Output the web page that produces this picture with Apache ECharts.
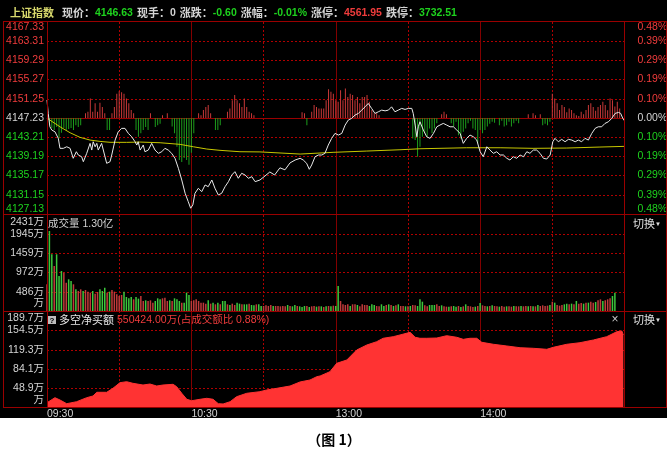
<!DOCTYPE html>
<html><head><meta charset="utf-8">
<script src="https://cdn.jsdelivr.net/npm/echarts@6/dist/echarts.min.js"></script>
<style>
html,body{margin:0;padding:0;background:#fff;}
#bg{position:absolute;left:0;top:0;width:667px;height:418px;background:#000;}
#chart{position:absolute;left:0;top:0;width:671px;height:462px;}
</style></head><body>
<div id="bg"></div><div id="chart"></div>
<script>
// ---------- DATA ----------
const priceBase = 4147.23, priceStep = 4.02;
const priceTickLabels = ['4127.13','4131.15','4135.17','4139.19','4143.21','4147.23','4151.25','4155.27','4159.29','4163.31','4167.33'];
const pctTickLabels = ['0.48%','0.39%','0.29%','0.19%','0.10%','0.00%','0.10%','0.19%','0.29%','0.39%','0.48%'];
const volMax = 2431, volStep = 486.2;
const volTickLabels = ['万','486万','972万','1459万','1945万','2431万'];
const netMin = 13.7, netMax = 189.7, netStep = 35.2;
const netTickLabels = ['万','48.9万','84.1万','119.3万','154.5万','189.7万'];
const timeTicks = [0, 60, 120, 180];
const timeTickLabels = ['09:30', '10:30', '13:00', '14:00'];
const headerParts = [['上证指数','name'],['现价：','label'],['4146.63','down'],['现手：','label'],['0','plain'],['涨跌：','label'],['-0.60','down'],['涨幅：','label'],['-0.01%','down'],['涨停：','label'],['4561.95','up'],['跌停：','label'],['3732.51','down']];
const volumeTitle = '成交量 1.30亿';
const netTitle = '多空净买额';
const netValueText = '550424.00万(占成交额比 0.88%)';
const switchText = '切换';
const caption = '（图 1）';

// minute index (0 = 09:30, 120 = 11:30/13:00, 240 = 15:00), price
const priceLine = [[0,4151.0],[0.5,4148.19],[1.2,4145.39],[2.0,4144.70],[2.6,4145.06],[3.3,4144.35],[4.0,4144.70],[4.7,4142.97],[5.4,4140.88],[6.1,4140.52],[6.8,4140.88],[8.2,4141.21],[9.6,4140.88],[10.9,4138.79],[11.6,4138.43],[12.2,4140.17],[13.0,4139.48],[14.4,4139.12],[15.1,4138.08],[16.5,4139.83],[17.9,4141.92],[18.6,4140.52],[19.2,4142.26],[20.0,4141.21],[20.7,4141.92],[21.3,4140.52],[22.0,4140.88],[22.7,4141.92],[23.4,4141.57],[24.8,4137.74],[25.5,4137.39],[26.2,4138.08],[26.9,4139.48],[28.3,4142.61],[29.6,4144.35],[31.0,4145.06],[32.4,4145.06],[33.8,4144.01],[35.2,4143.30],[36.6,4142.26],[37.3,4141.57],[37.9,4142.26],[38.7,4140.52],[39.4,4140.17],[40.0,4141.57],[40.7,4140.17],[42.1,4140.52],[43.5,4141.92],[44.9,4140.52],[46.3,4139.83],[47.7,4140.17],[49.0,4140.88],[50.4,4140.52],[51.8,4139.83],[53.2,4138.79],[54.6,4136.70],[56.0,4134.25],[57.4,4131.47],[58.7,4129.72],[59.7,4128.34],[60.6,4129.03],[61.5,4131.47],[62.9,4132.52],[64.3,4131.81],[65.7,4133.21],[67.0,4132.85],[68.5,4134.25],[69.8,4132.52],[71.2,4131.12],[72.6,4131.47],[74.0,4132.85],[75.4,4133.90],[76.8,4135.30],[78.1,4135.99],[79.5,4134.61],[80.9,4135.65],[82.3,4135.30],[83.7,4134.61],[85.1,4134.94],[86.5,4133.90],[88.5,4134.25],[90.6,4135.09],[92.6,4135.93],[94.6,4135.30],[96.8,4136.80],[98.9,4136.38],[101.0,4137.83],[103.1,4138.43],[105.2,4138.79],[106.5,4138.43],[107.9,4137.74],[109.0,4136.49],[110.0,4137.39],[111.4,4139.12],[112.8,4139.48],[114.2,4139.48],[115.5,4139.83],[116.9,4141.57],[118.3,4142.97],[119.7,4144.01],[121.1,4143.66],[122.5,4144.01],[123.9,4145.75],[125.2,4146.79],[126.6,4147.15],[128.0,4147.84],[129.4,4148.19],[130.8,4148.88],[132.2,4149.57],[133.5,4150.28],[134.9,4149.24],[136.3,4148.19],[137.7,4148.53],[139.1,4148.88],[140.5,4148.73],[141.9,4148.88],[143.2,4149.57],[144.6,4148.53],[146.0,4148.88],[147.4,4149.24],[148.8,4149.03],[150.2,4149.24],[151.6,4149.24],[152.2,4148.19],[153.0,4145.75],[153.7,4143.30],[154.3,4145.39],[155.0,4146.44],[156.4,4144.70],[157.8,4143.30],[159.2,4142.97],[160.6,4144.01],[162.0,4145.39],[163.3,4145.75],[164.7,4146.10],[166.1,4145.75],[167.5,4145.39],[168.9,4145.39],[170.3,4144.70],[171.7,4144.01],[173.0,4141.92],[174.4,4142.97],[175.8,4143.66],[177.2,4143.30],[178.6,4142.61],[180.0,4140.17],[181.3,4139.12],[182.8,4141.21],[184.1,4140.52],[185.5,4139.83],[186.9,4140.17],[188.3,4139.48],[189.7,4139.48],[191.1,4138.79],[192.4,4138.43],[193.8,4139.12],[195.2,4138.79],[196.6,4139.48],[198.0,4139.12],[199.4,4140.17],[200.7,4139.83],[202.1,4140.52],[203.5,4140.52],[204.9,4139.83],[206.3,4138.79],[207.7,4138.64],[209.1,4139.48],[210.2,4142.26],[211.1,4142.97],[212.5,4142.26],[213.9,4142.76],[215.3,4142.26],[216.7,4142.76],[218.1,4142.61],[219.5,4142.26],[220.8,4142.61],[222.2,4142.26],[223.6,4142.97],[225.0,4142.61],[226.4,4144.01],[227.8,4145.06],[229.1,4145.39],[230.5,4145.39],[231.9,4146.10],[233.3,4146.44],[234.7,4147.15],[236.1,4148.19],[237.5,4148.40],[238.4,4148.19],[239.3,4147.15],[240,4146.63]];

const avgLine = [[0,4147.2],[1.2,4146.79],[5.4,4145.39],[9.6,4144.14],[13.7,4143.18],[17.9,4142.61],[22,4142.33],[26.2,4142.14],[33.1,4142.13],[38.7,4142.19],[47,4142.05],[55.3,4141.71],[60.8,4141.21],[66.4,4140.73],[71.9,4140.46],[80.2,4140.17],[88.5,4140.13],[105.2,4139.68],[118.9,4140.04],[132.9,4140.31],[146.7,4140.58],[155,4140.79],[174.4,4141.00],[188.3,4141.00],[202,4140.88],[216,4140.94],[229.8,4141.15],[240,4141.29]];

// red/green strength bars in the price panel: [first minute, values in index points]
const sentimentGroups = [
 [1, [-1.5,-2.1,-2.5,-1.9,-4.3,-3.1,-2.1,-2.5,-2.3,-2.1,-2.5,-1.5,-1.9,-1.5]],
 [16, [1.0,1.3,4.1,1.3,3.1,1.3,3.2,2.3,1.0]],
 [25, [-2.5,-2.5]],
 [27, [1.0,2.3,5.1,5.6,5.4,5.1,4.1,3.1,1.7,1.0]],
 [37, [-2.5,-3.9,-3.2,-2.5,-1.9,-2.5]],
 [43, [1.0]],
 [45, [-1.9,-1.5,-1.2]],
 [48, [0.6,0,1.0]],
 [52, [-1.8,-3.2,-6.0,-8.8,-9.2,-8.4,-8.8,-9.8,-7.3,-3.2]],
 [63, [1.0,0.6,1.7,2.3,2.7,1.0]],
 [70, [-2.5,-2.5,-1.5]],
 [75, [1.3,2.0,3.7,4.8,3.7,3.1,2.3,4.1,2.3,1.3,1.0,0.6]],
 [106, [1.2,1.0,-1.5]],
 [110, [1.3,2.7,2.3,2.0,2.0,2.0,3.7,6.0,5.5,5.1,3.7,3.4,5.8,3.7,6.2,4.4,5.1,4.8,3.7,4.4,3.1,4.4,4.4,4.8,3.4,1.7,1.0,1.0,0.6]],
 [152, [-4.3,-4.6,-8.1,-6.0,-3.9,-3.2,-3.9,-2.2,-3.2,-2.2,-1.1]],
 [164, [0.8,1.3,0.8]],
 [168, [-1.1,-1.8,-0.8,-3.6,-4.3,-2.9,-2.2,-1.1,-0.6,-2.2,-2.5,-5.3,-2.5,-3.2,-2.5,-1.8,-1.2,-0.8,-1.0]],
 [188, [-1.5,-0.6,-1.8,-1.5,-0.8,-1.8,-1.1,-0.6,-1.1]],
 [200, [0.8,0,1.0,0.6,0,0.8]],
 [206, [-1.5,-1.2,-1.5,-0.8]],
 [210, [5.1,4.1,3.1,1.7,2.7,2.3,1.2,2.0,1.7,1.0,0.6,0.4,1.3,0.8,1.7,2.7,3.1,2.3,1.5,2.3,2.7,3.4,2.7,1.6,4.1,3.7,2.4,3.4,2.0]]
];

// volume (万), morning minutes 0..120, afternoon from minute 121
const volAM = [676,2026,1436,1140,1436,887,1013,970,717,803,760,676,549,507,549,507,532,490,465,507,439,482,549,507,591,465,490,532,490,422,380,405,490,355,321,355,296,355,313,380,253,270,253,270,211,253,321,296,321,338,253,270,253,321,296,253,211,211,465,405,253,270,296,253,211,211,186,270,186,211,169,211,169,253,253,169,152,186,152,211,186,169,169,169,186,152,144,169,169,127,127,144,127,152,127,127,127,118,127,118,152,127,118,152,127,118,101,127,127,101,118,127,110,118,118,101,118,127,118,135,127];
const volAMDir = "rggrgggrrggrgrrgrrrgrrgggrgrrrrrggggrggrrgrrrgggrrrgrgggrgggrrrrrrrgrgrgrggrgrrggrggrggrggrrrrgrrrrrgrggrgggrgrrgrgrgrgr";
const volPM = [633,253,169,152,169,127,169,169,152,118,169,152,152,127,169,152,127,118,169,127,152,169,152,127,144,169,127,127,118,118,127,152,144,127,296,236,144,118,152,152,152,169,127,144,118,110,110,118,127,110,127,101,118,169,127,118,101,110,127,203,144,127,118,127,144,127,118,110,127,110,118,118,110,127,118,118,127,118,127,118,127,118,118,152,127,144,127,135,152,236,211,152,135,152,169,186,169,186,169,253,186,203,186,211,211,236,211,228,270,296,253,270,296,321,380,465];
const volPMDir = "grrrrgrrgrrrrgggrrggrgrgrgrrgrgrrgggrrgggrrgrrgrggrgrgrrrgrgrrgrgrrgrrgrrgrrgrrgrgrgrrrrgrgrrrggrgrgrrgrgrrgrrgrrr";

// net buy (万), [minute, value]
const netBuy = [[0,23.3],[3.3,32.4],[5.4,28.2],[8.2,21.5],[12.3,25.1],[16.5,32.4],[19.1,35.5],[20.7,42.2],[24.8,42.2],[27.4,49.4],[30.3,59.6],[33.1,61.4],[35.7,58.5],[39.9,55.4],[42.8,57.2],[45.6,53.6],[48.2,55.4],[52.4,56.7],[53.9,52.3],[56,40.4],[58.1,29.5],[60.1,26.9],[63.6,29.5],[66.4,31.3],[69,29.5],[71.2,21.5],[73.2,21.0],[76.1,25.1],[78.8,34.2],[83,40.4],[88.5,43.3],[91.3,46.4],[95.5,49.4],[101,53.6],[105.2,61.0],[109.3,64.5],[112.1,70.5],[113.5,71.8],[117.6,79.6],[120.4,94.8],[124.6,100.8],[128.7,118.9],[132.9,128.0],[137,134.0],[139.7,140.2],[143.9,143.1],[146.7,146.2],[150.9,151.0],[153,142.0],[155,140.2],[157.8,140.2],[162,140.7],[166.1,144.9],[170.3,142.0],[173,138.3],[175.8,140.2],[178.6,140.2],[180.7,132.9],[185.5,129.3],[191.1,126.2],[196.6,123.1],[202.1,122.0],[207.7,120.2],[210.4,123.8],[216,129.3],[221.5,132.2],[227.1,137.1],[232.6,143.1],[236.8,152.1],[238.9,153.4],[239.5,146.1]];

// ---------- STYLE ----------
function fontAvailable(name) {
  const ctx = document.createElement('canvas').getContext('2d');
  const s = '0123456789.%-';
  ctx.font = '40px monospace'; const a = ctx.measureText(s).width;
  ctx.font = "40px '" + name + "', monospace"; const b = ctx.measureText(s).width;
  ctx.font = '40px serif'; const c = ctx.measureText(s).width;
  ctx.font = "40px '" + name + "', serif"; const d = ctx.measureText(s).width;
  return a !== b || c !== d;
}
const NARROW = fontAvailable('Liberation Sans Narrow');
const NUMF = NARROW ? "'Liberation Sans Narrow', 'Noto Sans CJK SC', sans-serif" : "'Liberation Sans', 'Noto Sans CJK SC', sans-serif";
const NUMS = NARROW ? 12 : 10.5;
const CJKF = "'Noto Sans CJK SC', sans-serif";
const CJKS = 11;
const C = {red:'#f03c3c', green:'#1ed21e', white:'#d4d4d4', yellow:'#d8d86c', frame:'#9a0000', solid:'#820000', dash:'#b00000',
  line:'#e8e8e8', avg:'#c8c800', barUp:'#c83838', barDn:'#1c9e1c', volUp:'#c03a3a', volDn:'#3cc83c', area:'#ff3333'};

function axisRich() {
  const b = {fontFamily: NUMF, fontSize: NUMS};
  return {
    r: Object.assign({color: C.red}, b), g: Object.assign({color: C.green}, b), w: Object.assign({color: C.white}, b),
    rT: Object.assign({color: C.red, padding: [10,0,0,0]}, b), gB: Object.assign({color: C.green, padding: [0,0,10,0]}, b),
    wT: Object.assign({color: C.white, padding: [14,0,0,0]}, b), wB: Object.assign({color: C.white, padding: [0,0,16,0]}, b)
  };
}
function priceFmt(labels) {
  return function (v) {
    const i = Math.round(v) + 5;
    const c = i < 5 ? 'g' : (i > 5 ? 'r' : 'w');
    const s = i === 10 ? 'T' : (i === 0 ? 'B' : '');
    return '{' + c + s + '|' + labels[i] + '}';
  };
}
function stepFmt(labels, step) {
  return function (v) {
    const i = Math.round(v / step);
    const s = i === labels.length - 1 ? 'T' : (i === 0 ? 'B' : '');
    return '{w' + s + '|' + labels[i] + '}';
  };
}

// ---------- BUILD ----------
const grids = [
  {left: 47, top: 22, width: 577.5, height: 192},
  {left: 47, top: 215, width: 577.5, height: 96},
  {left: 47, top: 311, width: 577.5, height: 97}
].map(g => Object.assign({outerBoundsMode: 'none', containLabel: false}, g));

const xAxes = [];
for (let g = 0; g < 3; g++) {
  xAxes.push({type: 'value', gridIndex: g, min: 0, max: 240, interval: 30, position: 'bottom',
    axisLine: {show: false}, axisTick: {show: false},
    axisLabel: g === 2 ? {show: true, margin: 1, align: 'left', color: C.white, fontFamily: NUMF, fontSize: NUMS,
      showMinLabel: true, showMaxLabel: false, hideOverlap: false,
      formatter: v => { const i = timeTicks.indexOf(v); return i >= 0 ? timeTickLabels[i] : ''; }} : {show: false},
    splitLine: {show: true, showMinLine: false, showMaxLine: false, lineStyle: {color: C.dash, type: [2, 2], width: 1}}});
  xAxes.push({type: 'value', gridIndex: g, min: 0, max: 240, interval: 60, position: 'top',
    axisLine: g === 0 ? {show: true, onZero: true, lineStyle: {color: C.frame, width: 1}} : {show: false},
    axisTick: {show: false}, axisLabel: {show: false},
    splitLine: {show: true, showMinLine: false, showMaxLine: false, lineStyle: {color: C.solid, type: 'solid', width: 1}}});
}

const ySplit = {show: true, showMinLine: false, showMaxLine: false, lineStyle: {color: C.dash, type: [2, 2], width: 1}};
const yAxes = [
  {type: 'value', gridIndex: 0, position: 'left', min: -5, max: 5, interval: 1, axisLine: {show: false}, axisTick: {show: false},
    axisLabel: {margin: 3, formatter: priceFmt(priceTickLabels), rich: axisRich()}, splitLine: ySplit},
  {type: 'value', gridIndex: 0, position: 'right', min: -5, max: 5, interval: 1, axisLine: {show: false}, axisTick: {show: false},
    axisLabel: {margin: 13, formatter: priceFmt(pctTickLabels), rich: axisRich()}, splitLine: {show: false}},
  {type: 'value', gridIndex: 1, position: 'left', min: 0, max: volMax, interval: volStep, axisLine: {show: false}, axisTick: {show: false},
    axisLabel: {margin: 3, formatter: stepFmt(volTickLabels, volStep), rich: axisRich()}, splitLine: ySplit},
  {type: 'value', gridIndex: 2, position: 'left', min: 0, max: netMax - netMin, interval: netStep, axisLine: {show: false}, axisTick: {show: false},
    axisLabel: {margin: 3, formatter: stepFmt(netTickLabels, netStep), rich: axisRich()}, splitLine: ySplit}
];

const sentData = [];
sentimentGroups.forEach(([start, vals]) => vals.forEach((v, k) => {
  if (v !== 0) sentData.push({value: [start + k, v / priceStep], itemStyle: {color: v > 0 ? C.barUp : C.barDn}});
}));
const volData = [];
volAM.forEach((v, k) => volData.push({value: [k, v], itemStyle: {color: volAMDir[k] === 'r' ? C.volUp : C.volDn}}));
volPM.forEach((v, k) => volData.push({value: [121 + k, v], itemStyle: {color: volPMDir[k] === 'r' ? C.volUp : C.volDn}}));

const series = [
  {type: 'bar', name: 'strength', xAxisIndex: 0, yAxisIndex: 0, barWidth: 1, data: sentData, silent: true},
  {type: 'line', name: 'avg', xAxisIndex: 0, yAxisIndex: 0, data: avgLine.map(([t, p]) => [t, (p - priceBase) / priceStep]),
    showSymbol: false, symbol: 'none', lineStyle: {color: C.avg, width: 1}, silent: true},
  {type: 'line', name: 'price', xAxisIndex: 0, yAxisIndex: 0, data: priceLine.map(([t, p]) => [t, (p - priceBase) / priceStep]),
    showSymbol: false, symbol: 'none', lineStyle: {color: C.line, width: 1}, silent: true},
  {type: 'bar', name: 'volume', xAxisIndex: 2, yAxisIndex: 2, barWidth: 1.5, data: volData, silent: true},
  {type: 'line', name: 'net', xAxisIndex: 4, yAxisIndex: 3, data: netBuy.map(([t, v]) => [t, v - netMin]),
    showSymbol: false, symbol: 'none', lineStyle: {color: C.area, width: 1}, areaStyle: {color: C.area, opacity: 1, origin: 'start'}, silent: true}
];

// header rich text
const headerRich = {
  name: {color: C.yellow, fontFamily: CJKF, fontSize: CJKS, lineHeight: 14},
  label0: {color: C.white, fontFamily: CJKF, fontSize: CJKS, lineHeight: 14, padding: [0, 0, 0, 8]},
  label: {color: C.white, fontFamily: CJKF, fontSize: CJKS, lineHeight: 14, padding: [0, 0, 0, 4]},
  up: {color: C.red, fontFamily: NUMF, fontSize: NUMS, lineHeight: 14},
  down: {color: C.green, fontFamily: NUMF, fontSize: NUMS, lineHeight: 14},
  plain: {color: C.white, fontFamily: NUMF, fontSize: NUMS, lineHeight: 14}
};
const headerText = headerParts.map(([s, c], i) => '{' + (c === 'label' && i === 1 ? 'label0' : c) + '|' + s + '}').join('');

function hline(y) { return {type: 'line', z: 50, silent: true, shape: {x1: 3, y1: y, x2: 667, y2: y}, style: {stroke: C.frame, lineWidth: 1}}; }
function vline(x) { return {type: 'line', z: 50, silent: true, shape: {x1: x, y1: 21.5, x2: x, y2: 407.5}, style: {stroke: C.frame, lineWidth: 1}}; }
function txt(text, x, y, fill, font, align, extra) {
  return Object.assign({type: 'text', z: 60, silent: true, x: x, y: y,
    style: {text: text, fill: fill, font: font, align: align || 'left', verticalAlign: 'middle', textAlign: align || 'left', textVerticalAlign: 'middle'}}, extra || {});
}
const fMix = NUMS + 'px ' + NUMF;
const fCjk = CJKS + 'px ' + CJKF;
const graphics = [
  hline(21.5), hline(214.5), hline(311.5), hline(407.5),
  vline(3.5), vline(47.5), vline(624.5), vline(666.5),
  txt(volumeTitle, 48, 224, '#d0d0d0', fMix),
  {type: 'rect', z: 60, silent: true, shape: {x: 48, y: 316, width: 8, height: 8}, style: {fill: '#bdbdbd'}},
  txt('?', 52, 320.5, '#000', 'bold 8px ' + NUMF, 'center'),
  txt(netTitle, 59, 320, '#e6e6e6', fCjk),
  txt(netValueText, 117, 320, C.red, fMix),
  txt('×', 615, 320, '#c8c8c8', '12px ' + NUMF, 'center'),
  txt(switchText, 633, 224, '#e0e0e0', fCjk),
  txt('▼', 658, 224, '#e0e0e0', '6px ' + NUMF, 'center'),
  txt(switchText, 633, 320, '#e0e0e0', fCjk),
  txt('▼', 658, 320, '#e0e0e0', '6px ' + NUMF, 'center'),
  txt(caption, 334, 440, '#000', 'bold 14px ' + CJKF, 'center')
];

const option = {
  animation: false,
  backgroundColor: 'transparent',
  title: {left: 10, top: 6, padding: 0, text: headerText, textStyle: {rich: headerRich}},
  grid: grids,
  xAxis: xAxes,
  yAxis: yAxes,
  series: series,
  graphic: {elements: graphics}
};
const chart = echarts.init(document.getElementById('chart'), null, {renderer: 'canvas', width: 671, height: 462});
chart.setOption(option);
</script></body></html>
